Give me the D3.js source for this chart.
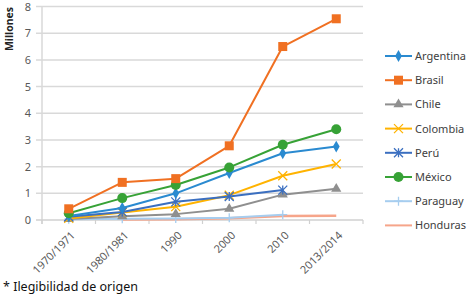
<!DOCTYPE html>
<html><head><meta charset="utf-8">
<script src="https://cdn.jsdelivr.net/npm/d3@7"></script>
<style>body{margin:0;background:#fff}svg{display:block}</style>
</head><body>
<script>
const categories = ["1970/1971","1980/1981","1990","2000","2010","2013/2014"];
const yTicks = [0,1,2,3,4,5,6,7,8];
const argentina = [0.15,0.45,1.0,1.76,2.5,2.75];
const brasil = [0.42,1.41,1.55,2.78,6.5,7.54];
const chile = [0.04,0.14,0.22,0.42,0.95,1.17];
const colombia = [0.06,0.28,0.5,0.93,1.66,2.1];
const peru = [0.12,0.3,0.68,0.88,1.12,null];
const mexico = [0.25,0.82,1.31,1.97,2.82,3.4];
const paraguay = [0.03,0.05,0.06,0.08,0.2,null];
const honduras = [null,0.02,0.03,0.07,0.15,0.16];
const seriesNames = ["Argentina","Brasil","Chile","Colombia","Perú","México","Paraguay","Honduras"];
const seriesValues = [argentina,brasil,chile,colombia,peru,mexico,paraguay,honduras];
const seriesColors = ["#2a8ad0","#f07022","#8f8f8f","#ffb300","#3b6fc0","#37a236","#a6cdef","#f6a58a"];
const seriesMarkers = ["diamond","square","triangle","x","asterisk","circle","plus","none"];

const W=469,H=298;
const svg=d3.select("body").append("svg").attr("width",W).attr("height",H);
const font="'Noto Sans', 'Open Sans', sans-serif";
const x=d3.scaleBand().domain(categories).range([42,363]);
const y=d3.scaleLinear().domain([0,8]).range([220,6.5]);

// gridlines
svg.append("g").selectAll("line").data(yTicks.filter(d=>d>0)).join("line")
  .attr("x1",36).attr("x2",363).attr("y1",d=>y(d)).attr("y2",d=>y(d))
  .attr("stroke","#d9d9d9").attr("stroke-width",1.5);
// left axis line
svg.append("line").attr("x1",42).attr("x2",42).attr("y1",y(8)).attr("y2",y(0)+4)
  .attr("stroke","#d9d9d9").attr("stroke-width",1.5);
// x axis
const xa=svg.append("g").attr("transform",`translate(0,${y(0)})`)
  .call(d3.axisBottom(x).tickSize(0).tickFormat(""));
xa.select(".domain").attr("stroke","#d0d0d0").attr("stroke-width",1.5).attr("d","M36,0H363");
const bounds=categories.map(c=>x(c)).concat([x(categories[categories.length-1])+x.bandwidth()]);
svg.append("g").selectAll("line").data(bounds).join("line")
  .attr("x1",d=>d).attr("x2",d=>d).attr("y1",y(0)).attr("y2",y(0)+4)
  .attr("stroke","#d0d0d0").attr("stroke-width",1.2);
// y tick labels
svg.append("g").selectAll("text").data(yTicks).join("text")
  .attr("x",31).attr("y",d=>y(d)+4).attr("text-anchor","end")
  .attr("font-family",font).attr("font-size",11).attr("fill","#595959").text(d=>d);
// x labels
svg.append("g").selectAll("text").data(categories).join("text")
  .attr("transform",c=>`translate(${x(c)+x.bandwidth()/2+7},${y(0)+16}) rotate(-45)`)
  .attr("text-anchor","end").attr("font-family",font).attr("font-size",11).attr("fill","#595959").text(c=>c);
// y title
svg.append("text").attr("transform","translate(13,29) rotate(-90)").attr("text-anchor","middle")
  .attr("font-family",font).attr("font-size",10.5).attr("font-weight","bold").attr("fill","#222").text("Millones");

function marker(g,type,color,cx,cy){
  if(type==="diamond") g.append("path").attr("d",d3.symbol(d3.symbolDiamond,40)()).attr("transform",`translate(${cx},${cy})`).attr("fill",color);
  else if(type==="square") g.append("rect").attr("x",cx-4.5).attr("y",cy-4.5).attr("width",9).attr("height",9).attr("fill",color);
  else if(type==="triangle") g.append("path").attr("d",d3.symbol(d3.symbolTriangle,45)()).attr("transform",`translate(${cx},${cy})`).attr("fill",color);
  else if(type==="circle") g.append("circle").attr("cx",cx).attr("cy",cy).attr("r",5).attr("fill",color);
  else if(type==="x"||type==="asterisk"||type==="plus"){
    const s=4.5;
    const p=d3.path();
    if(type!=="plus"){p.moveTo(cx-s,cy-s);p.lineTo(cx+s,cy+s);p.moveTo(cx-s,cy+s);p.lineTo(cx+s,cy-s);}
    if(type==="asterisk"){p.moveTo(cx,cy-s);p.lineTo(cx,cy+s);}
    if(type==="plus"){p.moveTo(cx-s,cy);p.lineTo(cx+s,cy);p.moveTo(cx,cy-s);p.lineTo(cx,cy+s);}
    g.append("path").attr("d",p.toString()).attr("stroke",color).attr("stroke-width",1.3).attr("fill","none");
  }
}
// draw series (reverse so Argentina/Brasil on top)
const order=[7,6,2,3,4,0,5,1];
order.forEach(i=>{
  const vals=seriesValues[i], color=seriesColors[i];
  const g=svg.append("g");
  const line=d3.line().defined(d=>d[1]!=null).x(d=>x(d[0])+x.bandwidth()/2).y(d=>y(d[1]));
  const pts=categories.map((c,j)=>[c,vals[j]]);
  g.append("path").attr("d",line(pts)).attr("fill","none").attr("stroke",color).attr("stroke-width",i===7?2.5:2).attr("stroke-linejoin","round");
  pts.filter(d=>d[1]!=null).forEach(d=>marker(g,seriesMarkers[i],color,x(d[0])+x.bandwidth()/2,y(d[1])));
});
// legend
const lg=svg.append("g");
seriesNames.forEach((n,i)=>{
  const ly=56+i*24.2;
  const g=lg.append("g");
  g.append("line").attr("x1",385).attr("x2",412).attr("y1",ly).attr("y2",ly).attr("stroke",seriesColors[i]).attr("stroke-width",2);
  marker(g,seriesMarkers[i],seriesColors[i],398.5,ly);
  g.append("text").attr("x",415).attr("y",ly+4).attr("font-family",font).attr("font-size",11).attr("fill","#404040").text(n);
});
// footnote
svg.append("text").attr("x",3).attr("y",291).attr("font-family",font).attr("font-size",12.5).attr("fill","#111").text("* Ilegibilidad de origen");
</script>
</body></html>
